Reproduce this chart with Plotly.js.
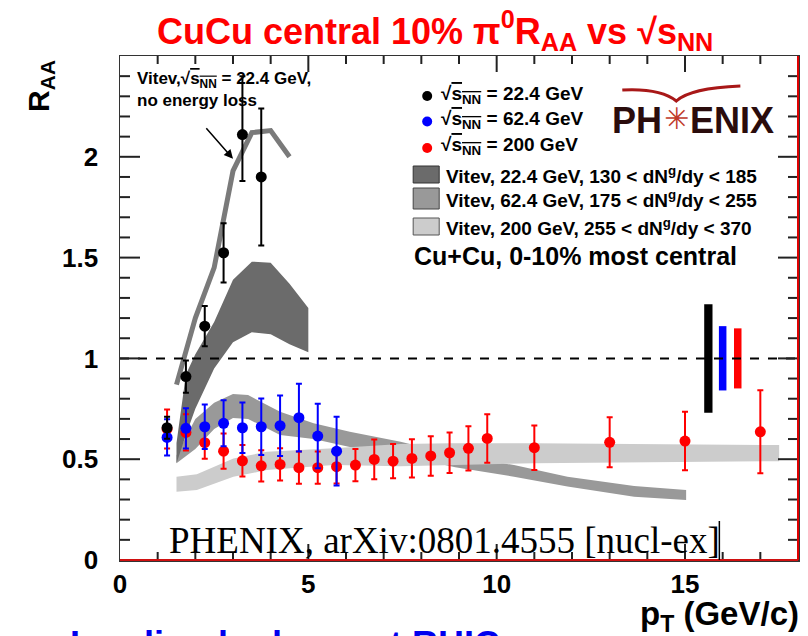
<!DOCTYPE html>
<html><head><meta charset="utf-8">
<script src="https://cdn.plot.ly/plotly-3.0.1.min.js"></script>
<style>html,body{margin:0;padding:0;background:#fff;}#chart{width:808px;height:636px;}</style>
</head><body><div id="chart"></div>
<script>
// ---- data ----
const x22 = [1.25, 1.75, 2.25, 2.75, 3.25, 3.75];
const y22 = [0.656, 0.91, 1.16, 1.524, 2.11, 1.90];
const e22up = [0.055, 0.08, 0.10, 0.147, 0.29, 0.34];
const e22dn = [0.055, 0.08, 0.10, 0.147, 0.23, 0.34];

const x62 = [1.25, 1.75, 2.25, 2.75, 3.25, 3.75, 4.25, 4.75, 5.25, 5.75];
const y62 = [0.608, 0.653, 0.661, 0.678, 0.656, 0.661, 0.666, 0.706, 0.615, 0.54];
const e62 = [0.09, 0.10, 0.11, 0.114, 0.125, 0.14, 0.15, 0.168, 0.16, 0.17];

const x200 = [1.25, 1.75, 2.25, 2.75, 3.25, 3.75, 4.25, 4.75, 5.25, 5.75, 6.25, 6.75, 7.25, 7.75, 8.25, 8.75, 9.25, 9.75, 11, 13, 15, 17];
const y200 = [0.65, 0.633, 0.582, 0.54, 0.492, 0.467, 0.474, 0.458, 0.458, 0.463, 0.471, 0.499, 0.49, 0.504, 0.516, 0.532, 0.554, 0.603, 0.557, 0.584, 0.59, 0.636];
const e200 = [0.097, 0.09, 0.08, 0.087, 0.078, 0.078, 0.08, 0.08, 0.08, 0.083, 0.08, 0.099, 0.085, 0.095, 0.098, 0.10, 0.11, 0.12, 0.11, 0.124, 0.145, 0.206];

// Vitev, 22.4 GeV, no energy loss
const noElossX = [1.5, 2.0, 2.5, 3.0, 3.5, 4.0, 4.5];
const noElossY = [0.87, 1.20, 1.45, 1.93, 2.12, 2.13, 2.00];

// Vitev bands: x, lower edge, upper edge
const band22X  = [1.5, 1.75, 2.0, 2.5, 3.0, 3.5, 4.0, 4.5, 5.0];
const band22Lo = [0.48, 0.62, 0.75, 0.95, 1.08, 1.13, 1.12, 1.07, 1.03];
const band22Hi = [0.58, 0.92, 1.02, 1.18, 1.39, 1.48, 1.475, 1.37, 1.25];

const band62X  = [1.5, 2.0, 2.5, 3.0, 3.4, 4.25, 5.14, 6.1, 7.45, 8.9, 10.46, 11.88, 13.65, 15.03];
const band62Lo = [0.48, 0.55, 0.65, 0.704, 0.70, 0.62, 0.60, 0.56, 0.52, 0.46, 0.413, 0.364, 0.314, 0.297];
const band62Hi = [0.52, 0.70, 0.78, 0.823, 0.818, 0.735, 0.678, 0.636, 0.587, 0.52, 0.471, 0.413, 0.367, 0.347];

const band200X  = [1.5, 2.04, 3.01, 3.9, 5.67, 7.45, 8.78, 10.98, 17.5];
const band200Lo = [0.339, 0.347, 0.413, 0.446, 0.471, 0.465, 0.471, 0.48, 0.49];
const band200Hi = [0.413, 0.425, 0.504, 0.537, 0.554, 0.575, 0.579, 0.579, 0.57];

// global normalisation uncertainties (22.4, 62.4, 200 GeV)
const normX  = [15.62, 16.0, 16.4];
const normLo = [0.730, 0.841, 0.851];
const normHi = [1.269, 1.160, 1.149];

// R_AA = 1 reference level
const refLevel = 1;

const xRange = [0, 18];
const yRange = [0, 2.5];
const xTicks = [0, 5, 10, 15];
const xTickText = ['0', '5', '10', '15'];
const yTicks = [0, 0.5, 1, 1.5, 2];
const yTickText = ['0', '0.5', '1', '1.5', '2'];
const xMajorStep = 5, xMinorStep = 1, yMajorStep = 0.5, yMinorStep = 0.1;

// ---- helpers ----
const PL = 120, PR = 797.6, PT = 56, PB = 560;
const xp = px => (px - PL) / (PR - PL);
const yp = py => (PB - py) / (PB - PT);
const SANS = 'Liberation Sans, Arial, Helvetica, sans-serif';
const SERIF = 'Liberation Serif, Times New Roman, serif';
const SNN = "√<span style='text-decoration:overline'>s<sub>NN</sub></span>";

function bandTrace(xs, lo, hi, color) {
  return {
    x: xs.concat(xs.slice().reverse()),
    y: hi.concat(lo.slice().reverse()),
    type: 'scatter', mode: 'lines', fill: 'toself', fillcolor: color,
    line: {width: 0, color: color}, hoverinfo: 'skip', showlegend: false
  };
}

const traces = [
  bandTrace(band62X, band62Lo, band62Hi, '#999999'),
  bandTrace(band200X, band200Lo, band200Hi, '#cccccc'),
  bandTrace(band22X, band22Lo, band22Hi, '#6b6b6b'),
  {x: noElossX, y: noElossY, type: 'scatter', mode: 'lines',
   line: {color: '#7a7a7a', width: 5}, showlegend: false},
  {x: normX, base: normLo, y: normHi.map((v, i) => v - normLo[i]),
   type: 'bar', width: [0.22, 0.2, 0.2],
   marker: {color: ['#000000', '#0000ff', '#ff0000'], line: {width: 0}}, showlegend: false},
  {x: x200, y: y200, type: 'scatter', mode: 'markers',
   marker: {color: '#ff0000', size: 11},
   error_y: {type: 'data', array: e200, color: '#ff0000', thickness: 2, width: 3}, showlegend: false},
  {x: x62, y: y62, type: 'scatter', mode: 'markers',
   marker: {color: '#0000ff', size: 11},
   error_y: {type: 'data', array: e62, color: '#0000ff', thickness: 2, width: 3}, showlegend: false},
  {x: x22, y: y22, type: 'scatter', mode: 'markers',
   marker: {color: '#000000', size: 11},
   error_y: {type: 'data', symmetric: false, array: e22up, arrayminus: e22dn, color: '#000000', thickness: 2, width: 3}, showlegend: false}
];

const dotFont = {family: SANS, size: 19, color: '#000', weight: 'bold'};
const legFont = {family: SANS, size: 19, color: '#000', weight: 'bold'};
const annotations = [
  {xref: 'paper', yref: 'paper', x: xp(439), y: yp(95), xanchor: 'left', yanchor: 'middle', showarrow: false,
   text: SNN + ' = 22.4 GeV', font: dotFont},
  {xref: 'paper', yref: 'paper', x: xp(439), y: yp(120), xanchor: 'left', yanchor: 'middle', showarrow: false,
   text: SNN + ' = 62.4 GeV', font: dotFont},
  {xref: 'paper', yref: 'paper', x: xp(439), y: yp(146), xanchor: 'left', yanchor: 'middle', showarrow: false,
   text: SNN + ' = 200 GeV', font: dotFont},
  {xref: 'paper', yref: 'paper', x: xp(444), y: yp(175), xanchor: 'left', yanchor: 'middle', showarrow: false,
   text: 'Vitev, 22.4 GeV, 130 < dN<sup>g</sup>/dy < 185', font: legFont},
  {xref: 'paper', yref: 'paper', x: xp(444), y: yp(199), xanchor: 'left', yanchor: 'middle', showarrow: false,
   text: 'Vitev, 62.4 GeV, 175 < dN<sup>g</sup>/dy < 255', font: legFont},
  {xref: 'paper', yref: 'paper', x: xp(444), y: yp(227), xanchor: 'left', yanchor: 'middle', showarrow: false,
   text: 'Vitev, 200 GeV, 255 < dN<sup>g</sup>/dy < 370', font: legFont},
  {xref: 'paper', yref: 'paper', x: xp(412), y: yp(256), xanchor: 'left', yanchor: 'middle', showarrow: false,
   text: 'Cu+Cu, 0-10% most central', font: {family: SANS, size: 25, color: '#000', weight: 'bold'}},
  // PHENIX logo (text approximation)
  {xref: 'paper', yref: 'paper', x: xp(664), y: yp(120), xanchor: 'right', yanchor: 'middle', showarrow: false,
   text: 'PH', font: {family: SANS, size: 36, color: '#2a0c0c', weight: 'bold'}},
  {xref: 'paper', yref: 'paper', x: xp(676), y: yp(118), xanchor: 'center', yanchor: 'middle', showarrow: false,
   text: '✳', font: {family: 'DejaVu Sans, sans-serif', size: 30, color: '#c0392b'}},
  {xref: 'paper', yref: 'paper', x: xp(688), y: yp(120), xanchor: 'left', yanchor: 'middle', showarrow: false,
   text: 'ENIX', font: {family: SANS, size: 36, color: '#2a0c0c', weight: 'bold'}},
  // Vitev no e-loss annotation
  {xref: 'paper', yref: 'paper', x: xp(135), y: yp(89), xanchor: 'left', yanchor: 'middle', showarrow: false, align: 'left',
   text: 'Vitev,' + SNN + ' = 22.4 GeV,<br>no energy loss', font: {family: SANS, size: 17, color: '#000', weight: 'bold'}},
  {xref: 'x', yref: 'y', x: 3.0, y: 1.99, ax: -28, ay: -32, text: '', showarrow: true,
   arrowhead: 2, arrowsize: 1.2, arrowwidth: 1.5, arrowcolor: '#000'},
  // reference
  {xref: 'paper', yref: 'paper', x: xp(444), y: yp(540), xanchor: 'center', yanchor: 'middle', showarrow: false,
   text: 'PHENIX, arXiv:0801.4555 [nucl-ex]', font: {family: SERIF, size: 37, color: '#000'}},
  // axis titles
  {xref: 'paper', yref: 'paper', x: xp(40), y: yp(86), xanchor: 'center', yanchor: 'middle', showarrow: false,
   textangle: -90, text: 'R<sub>AA</sub>', font: {family: SANS, size: 30, color: '#000', weight: 'bold'}},
  {xref: 'paper', yref: 'paper', x: xp(801), y: yp(616), xanchor: 'right', yanchor: 'middle', showarrow: false,
   text: 'p<sub>T</sub> (GeV/c)', font: {family: SANS, size: 33, color: '#000', weight: 'bold'}},
  // cut-off text at the bottom of the page
  {xref: 'paper', yref: 'paper', x: xp(68), y: yp(622), xanchor: 'left', yanchor: 'top', showarrow: false,
   text: 'Leading hadrons at RHIC', font: {family: SANS, size: 36, color: '#0000ee', weight: 'bold'}}
];

function pbox(x0, y0, x1, y1, fill, lc) {
  return {type: 'rect', xref: 'paper', yref: 'paper', x0: xp(x0), x1: xp(x1), y0: yp(y0), y1: yp(y1),
          fillcolor: fill, line: {color: lc, width: 1}, layer: 'above'};
}
function pcirc(cx, cy, r, color) {
  return {type: 'circle', xref: 'paper', yref: 'paper', x0: xp(cx - r), x1: xp(cx + r), y0: yp(cy - r), y1: yp(cy + r),
          fillcolor: color, line: {color: color, width: 0}, layer: 'above'};
}

// tick marks on all four frame sides (inside), placed on the axes' own scales
const tickShapes = [];
const TICKC = '#222';
const TICKW = 2;
function xTickShape(v, lenPx) {
  const f = lenPx / (PB - PT);
  tickShapes.push({type: 'line', xref: 'x', yref: 'paper', x0: v, x1: v, y0: 0, y1: f, line: {color: TICKC, width: TICKW}, layer: 'above'});
  tickShapes.push({type: 'line', xref: 'x', yref: 'paper', x0: v, x1: v, y0: 1, y1: 1 - f, line: {color: TICKC, width: TICKW}, layer: 'above'});
}
function yTickShape(v, lenPx) {
  const f = lenPx / (PR - PL);
  tickShapes.push({type: 'line', xref: 'paper', yref: 'y', x0: 0, x1: f, y0: v, y1: v, line: {color: TICKC, width: TICKW}, layer: 'above'});
  tickShapes.push({type: 'line', xref: 'paper', yref: 'y', x0: 1, x1: 1 - f, y0: v, y1: v, line: {color: TICKC, width: TICKW}, layer: 'above'});
}
const nxMinor = Math.round((xRange[1] - xRange[0]) / xMinorStep);
for (let i = 1; i < nxMinor; i++) {
  const v = xRange[0] + i * xMinorStep;
  const major = Math.abs(v / xMajorStep - Math.round(v / xMajorStep)) < 1e-6;
  xTickShape(v, major ? 16 : 8);
}
const nyMinor = Math.round((yRange[1] - yRange[0]) / yMinorStep);
for (let i = 1; i < nyMinor; i++) {
  const v = yRange[0] + i * yMinorStep;
  const major = Math.abs(v / yMajorStep - Math.round(v / yMajorStep)) < 1e-6;
  yTickShape(v, major ? 20 : 10);
}

const shapes = [
  {type: 'line', xref: 'paper', yref: 'y', x0: 0, x1: 1, y0: refLevel, y1: refLevel,
   line: {color: '#000', width: 2, dash: 'dash'}, layer: 'above'},
  pcirc(427, 96, 5, '#000'), pcirc(427, 121.5, 5, '#0000ff'), pcirc(427, 148, 5, '#ff0000'),
  pbox(413, 166, 439, 183, '#6b6b6b', '#333'),
  pbox(413, 188, 439, 209, '#999999', '#444'),
  pbox(413, 218, 439, 235, '#cccccc', '#555'),
  // PHENIX swoosh
  {type: 'path', xref: 'paper', yref: 'paper', layer: 'above',
   path: `M ${xp(622)} ${yp(90)} Q ${xp(660)} ${yp(88)} ${xp(676)} ${yp(101)} Q ${xp(690)} ${yp(88)} ${xp(740)} ${yp(86)}`,
   line: {color: '#a81818', width: 3}},
  ...tickShapes,
  // red frame edges
  {type: 'line', xref: 'paper', yref: 'paper', x0: 1, x1: 1, y0: 0, y1: 1, line: {color: '#e00000', width: 2}, layer: 'above'},
  {type: 'line', xref: 'paper', yref: 'paper', x0: 0, x1: 1, y0: 0, y1: 0, line: {color: '#d01010', width: 2}, layer: 'above'},
  // right edge of text box
  {type: 'line', xref: 'paper', yref: 'paper', x0: xp(719), x1: xp(719), y0: yp(521), y1: 0, line: {color: '#000', width: 1.5}, layer: 'above'}
];

const layout = {
  width: 808, height: 636,
  margin: {l: PL, r: 808 - PR, t: PT, b: 636 - PB},
  paper_bgcolor: '#fff', plot_bgcolor: '#fff',
  showlegend: false,
  title: {text: 'CuCu central 10% π<sup>0</sup>R<sub>AA</sub> vs √s<sub>NN</sub>',
          font: {family: SANS, size: 36, color: '#ff0000', weight: 'bold'},
          xref: 'paper', x: xp(435), xanchor: 'center', yref: 'container', y: 1 - 31 / 636, yanchor: 'middle'},
  xaxis: {range: xRange, tickmode: 'array', tickvals: xTicks, ticktext: xTickText.map(t => '<b>' + t + '</b>'),
          ticks: '', showline: true, linecolor: '#333', linewidth: 1.5, mirror: true, showgrid: false, zeroline: false,
          tickfont: {family: SANS, size: 26, color: '#000'}},
  yaxis: {range: yRange, tickmode: 'array', tickvals: yTicks, ticktext: yTickText.map(t => '<b>' + t + '</b>\u2002\u200A'),
          ticks: '', showline: true, linecolor: '#333', linewidth: 1.5, mirror: true, showgrid: false, zeroline: false,
          tickfont: {family: SANS, size: 26, color: '#000'}},
  annotations: annotations,
  shapes: shapes
};

Plotly.newPlot('chart', traces, layout, {staticPlot: true});
</script>
</body></html>
